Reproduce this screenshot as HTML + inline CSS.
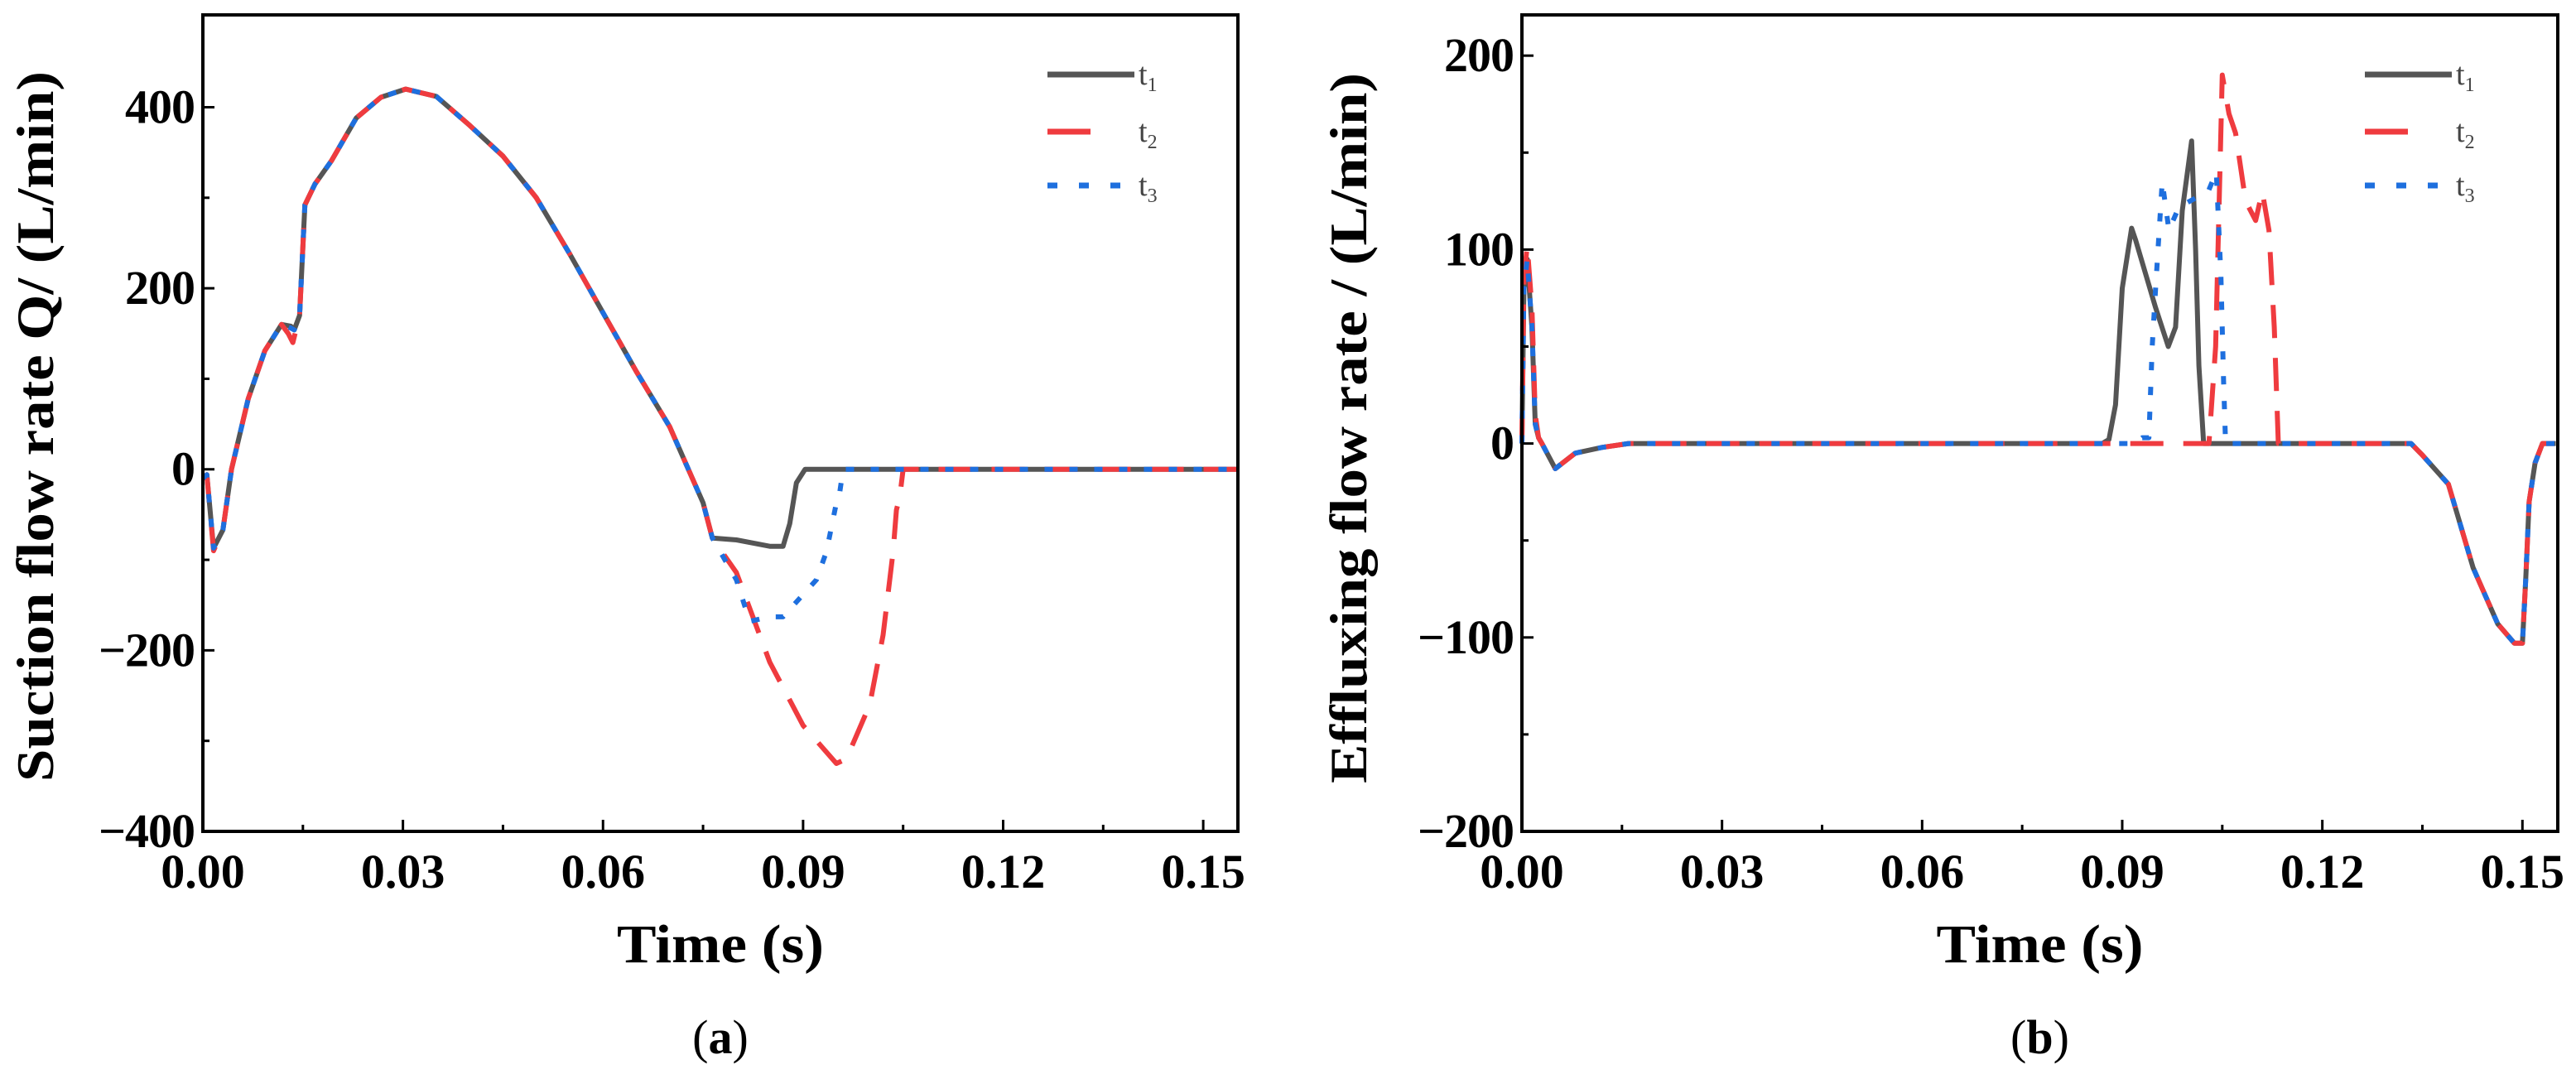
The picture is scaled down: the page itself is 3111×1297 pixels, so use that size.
<!DOCTYPE html>
<html><head><meta charset="utf-8">
<style>
html,body{margin:0;padding:0;background:#fff;}
svg{display:block;}
text{font-family:"Liberation Serif",serif;}
</style></head>
<body>
<svg id="fig" width="3111" height="1297" viewBox="0 0 3111 1297" xmlns="http://www.w3.org/2000/svg"></svg>
<script>
// ---------- Panel (a) data ----------
const aT1x=[0,0.0006,0.0016,0.003,0.0043,0.0068,0.0093,0.0118,0.0132,0.0137,0.0145,0.0153,0.0168,0.0193,0.023,0.0267,0.0304,0.035,0.040,0.045,0.050,0.055,0.060,0.065,0.070,0.075,0.0764,0.080,0.085,0.087,0.088,0.089,0.0903,0.155];
const aT1y=[-10,-6,-87,-67,0,78,131,160,158,154,170,292,315,341,388,411,420,412,380,346,300,238,173,108,47,-37,-76,-78,-85,-85,-60,-15,0,0];
const aT2x=[0,0.0006,0.0016,0.003,0.0043,0.0068,0.0093,0.0118,0.0128,0.0135,0.0145,0.0153,0.0168,0.0193,0.023,0.0267,0.0304,0.035,0.040,0.045,0.050,0.055,0.060,0.065,0.070,0.075,0.0764,0.080,0.085,0.090,0.095,0.0965,0.100,0.102,0.1035,0.104,0.1045,0.105,0.155];
const aT2y=[-10,-6,-90,-67,0,78,131,160,150,140,170,292,315,341,388,411,420,412,380,346,300,238,173,108,47,-37,-76,-114,-213,-283,-325,-320,-260,-183,-91,-45,-30,0,0];
const aT3x=[0,0.0006,0.0016,0.003,0.0043,0.0068,0.0093,0.0118,0.0132,0.0137,0.0145,0.0153,0.0168,0.0193,0.023,0.0267,0.0304,0.035,0.040,0.045,0.050,0.055,0.060,0.065,0.070,0.075,0.0764,0.080,0.082,0.085,0.087,0.092,0.0935,0.095,0.0955,0.096,0.155];
const aT3y=[-10,-6,-87,-67,0,78,131,160,156,154,170,292,315,341,388,411,420,412,380,346,300,238,173,108,47,-37,-76,-122,-168,-163,-163,-122,-91,-37,-25,0,0];
const aXTicks=[0,0.03,0.06,0.09,0.12,0.15];
const aXLabels=["0.00","0.03","0.06","0.09","0.12","0.15"];
const aYTicks=[-400,-200,0,200,400];
const aYLabels=["\u2212400","\u2212200","0","200","400"];
// ---------- Panel (b) data ----------
const bT1x=[0,0.0003,0.0008,0.0015,0.002,0.0025,0.003,0.005,0.008,0.012,0.016,0.087,0.088,0.089,0.090,0.0914,0.092,0.095,0.0969,0.098,0.099,0.1004,0.101,0.1015,0.1022,0.1333,0.135,0.1389,0.1426,0.1463,0.1488,0.150,0.1505,0.151,0.1519,0.153,0.155];
const bT1y=[0,80,95,60,10,3,0,-13,-5,-2,0,0,2,20,80,111,105,70,50,60,120,156,100,40,0,0,-6,-21,-64,-93,-103,-103,-70,-30,-10,0,0];
const bT2x=[0,0.0003,0.0008,0.0015,0.002,0.0025,0.003,0.005,0.008,0.012,0.016,0.103,0.104,0.105,0.106,0.107,0.1085,0.110,0.111,0.112,0.1128,0.1134,0.1333,0.135,0.1389,0.1426,0.1463,0.1488,0.150,0.1505,0.151,0.1519,0.153,0.155];
const bT2y=[0,85,102,70,15,3,0,-13,-5,-2,0,0,50,190,170,160,125,115,130,110,60,0,0,-6,-21,-64,-93,-103,-103,-70,-30,-10,0,0];
const bT3x=[0,0.0003,0.0008,0.0015,0.002,0.0025,0.003,0.005,0.008,0.012,0.016,0.092,0.093,0.094,0.0945,0.095,0.096,0.097,0.0985,0.1029,0.1041,0.1048,0.1052,0.1055,0.1333,0.135,0.1389,0.1426,0.1463,0.1488,0.150,0.1505,0.151,0.1519,0.153,0.155];
const bT3y=[0,80,95,60,10,3,0,-13,-5,-2,0,0,3,3,50,80,135,110,122,130,140,86,32,0,0,-6,-21,-64,-93,-103,-103,-70,-30,-10,0,0];
const bXTicks=[0,0.03,0.06,0.09,0.12,0.15];
const bXLabels=["0.00","0.03","0.06","0.09","0.12","0.15"];
const bYTicks=[-200,-100,0,100,200];
const bYLabels=["\u2212200","\u2212100","0","100","200"];

const NS="http://www.w3.org/2000/svg";
const svg=document.getElementById('fig');
function mk(tag,attrs,parent){const e=document.createElementNS(NS,tag);for(const k in attrs)e.setAttribute(k,attrs[k]);(parent||svg).appendChild(e);return e;}

function panel(P){
  const g=mk('g',{});
  
  
  const sx=v=>P.x0+(v-P.xmin)/(P.xmax-P.xmin)*(P.x1-P.x0);
  const sy=v=>P.y1-(v-P.ymin)/(P.ymax-P.ymin)*(P.y1-P.y0);
  const styles=[
    {c:'#555555',w:6,d:''},
    {c:'#ef3b3f',w:6,d:'40 24'},
    {c:'#1e6fde',w:6,d:'10 20'}];
  const names=['series-t1','series-t2','series-t3'];
  P.series.forEach((s,i)=>{
    let d='';
    s[0].forEach((t,j)=>{d+=(j?'L':'M')+sx(t).toFixed(1)+','+sy(s[1][j]).toFixed(1);});
    const p=mk('path',{d:d,fill:'none',stroke:styles[i].c,'stroke-width':styles[i].w,'stroke-dasharray':styles[i].d,'stroke-linejoin':'round'},g);
    
    
  });
  const fr=mk('rect',{x:P.x0,y:P.y0,width:P.x1-P.x0,height:P.y1-P.y0,fill:'none',stroke:'#000','stroke-width':4},g);
  
  
  P.xt.forEach((v,i)=>{
    const X=sx(v);
    mk('line',{x1:X,x2:X,y1:P.y1,y2:P.y1-14,stroke:'#000','stroke-width':3},g);
    if(i<P.xt.length-1){const m=sx((v+P.xt[i+1])/2);mk('line',{x1:m,x2:m,y1:P.y1,y2:P.y1-8,stroke:'#000','stroke-width':3},g);}
    const t=mk('text',{x:X,y:P.y1+68,'text-anchor':'middle','font-size':58,'font-weight':'bold'},g);
    t.textContent=P.xl[i];
    
    
  });
  P.yt.forEach((v,i)=>{
    const Y=sy(v);
    mk('line',{x1:P.x0,x2:P.x0+14,y1:Y,y2:Y,stroke:'#000','stroke-width':3},g);
    if(i<P.yt.length-1){const m=sy((v+P.yt[i+1])/2);mk('line',{x1:P.x0,x2:P.x0+8,y1:m,y2:m,stroke:'#000','stroke-width':3},g);}
    const t=mk('text',{x:P.x0-10,y:Y+19,'text-anchor':'end','font-size':58,'font-weight':'bold','letter-spacing':'-1'},g);
    t.textContent=P.yl[i];
    
    
  });
  const xt=mk('text',{x:(P.x0+P.x1)/2,y:1162,'text-anchor':'middle','font-size':66,'font-weight':'bold',textLength:250,lengthAdjust:'spacingAndGlyphs'},g);
  xt.textContent='Time (s)';
  
  
  const yt=mk('text',{x:0,y:0,'text-anchor':'middle','font-size':64,'font-weight':'bold',textLength:858,lengthAdjust:'spacingAndGlyphs',transform:`translate(${P.ytx},${P.yty}) rotate(-90)`},g);
  yt.textContent=P.ytitle;
  
  
  const cap=mk('text',{x:(P.x0+P.x1)/2,y:1272,'text-anchor':'middle','font-size':58},g);
  cap.innerHTML='(<tspan font-weight="bold">'+P.cap+'</tspan>)';
  
  
  const ly=[90,159,224], lab=['1','2','3'];
  styles.forEach((s,i)=>{
    const l=mk('line',{x1:P.lx,x2:P.lx+105,y1:ly[i],y2:ly[i],stroke:s.c,'stroke-width':7,'stroke-dasharray':s.d?(i==1?'52 60':'12 26'):''},g);
    
    
    const t=mk('text',{x:P.lx+110,y:ly[i]+12,'font-size':38,fill:'#444'},g);
    t.innerHTML='t<tspan font-size="24" dy="8">'+lab[i]+'</tspan>';
    
    
  });
}
panel({name:'chart-a',x0:245,x1:1495,y0:18,y1:1004,xmin:0,xmax:0.1552,ymin:-400,ymax:502,
  series:[[aT1x,aT1y],[aT2x,aT2y],[aT3x,aT3y]],xt:aXTicks,xl:aXLabels,yt:aYTicks,yl:aYLabels,
  ytitle:'Suction flow rate Q/ (L/min)',ytx:64,yty:515,cap:'a',lx:1265});
panel({name:'chart-b',x0:1838,x1:3089,y0:18,y1:1004,xmin:0,xmax:0.1553,ymin:-200,ymax:221,
  series:[[bT1x,bT1y],[bT2x,bT2y],[bT3x,bT3y]],xt:bXTicks,xl:bXLabels,yt:bYTicks,yl:bYLabels,
  ytitle:'Effluxing flow rate / (L/min)',ytx:1650,yty:517,cap:'b',lx:2856});
</script>
</body></html>
